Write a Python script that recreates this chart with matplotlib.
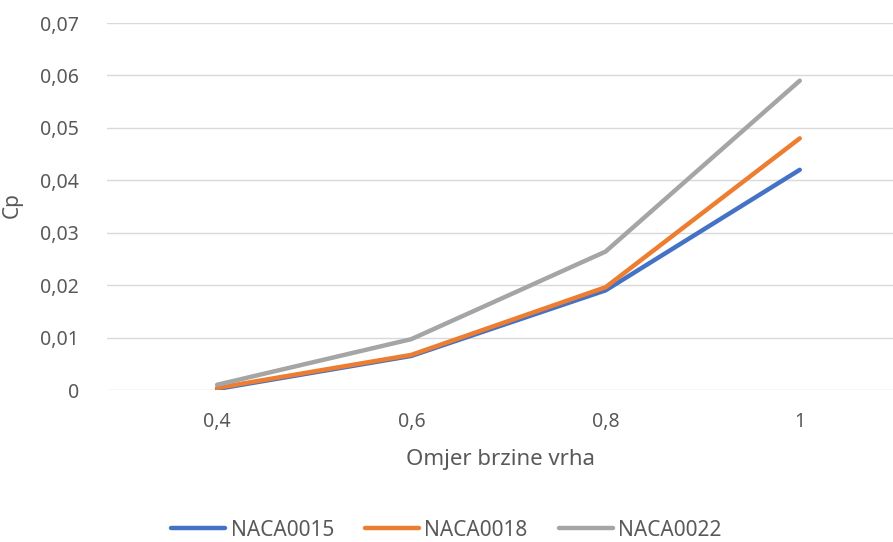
import matplotlib
matplotlib.use("Agg")
import matplotlib.pyplot as plt
from matplotlib.ticker import FuncFormatter

categories = ["0,4", "0,6", "0,8", "1"]
naca0015 = [0.0002, 0.0065, 0.019, 0.042]
naca0018 = [0.0004, 0.0067, 0.0196, 0.048]
naca0022 = [0.001, 0.0097, 0.0264, 0.059]
series_names = ["NACA0015", "NACA0018", "NACA0022"]
colors = ["#4472C4", "#ED7D31", "#A5A5A5"]

plt.rcParams['font.family'] = ['Noto Sans', 'DejaVu Sans']
text_col = "#595959"

fig = plt.figure(figsize=(8.93, 5.42), dpi=100)
ax = fig.add_axes([107/893, 152/542, 1 - 107/893, (390-23)/542])

x = range(len(categories))
for vals, name, c in zip([naca0015, naca0018, naca0022], series_names, colors):
    ax.plot(x, vals, color=c, lw=3.2, label=name, solid_capstyle='round')

ax.set_xlim(-0.567, 3.48)
ax.set_ylim(0, 0.07)
ax.set_yticks([i/100 for i in range(8)])
ax.yaxis.set_major_formatter(FuncFormatter(lambda v, p: "0" if v == 0 else ("%.2f" % v).replace(".", ",")))
ax.set_xticks(list(x))
ax.set_xticklabels(categories)
ax.grid(axis='y', color="#D9D9D9", lw=1)
ax.set_axisbelow(True)
for s in ax.spines.values():
    s.set_visible(False)
ax.tick_params(length=0, labelsize=14, colors=text_col)
ax.tick_params(axis='y', pad=20)
ax.tick_params(axis='x', pad=16)

ax.set_xlabel("Omjer brzine vrha", fontsize=16, color=text_col, labelpad=12)
fig.text(12/893, 1 - 205/542, "Cp", rotation=90, fontsize=15, color=text_col, ha='center', va='center')

fig.legend(loc='center', bbox_to_anchor=(0.5, 1 - 530/542), ncol=3, frameon=False,
           fontsize=15, handlelength=2.6, handletextpad=0.25, columnspacing=1.5,
           labelcolor=text_col)

fig.savefig("out.png", dpi=100)
